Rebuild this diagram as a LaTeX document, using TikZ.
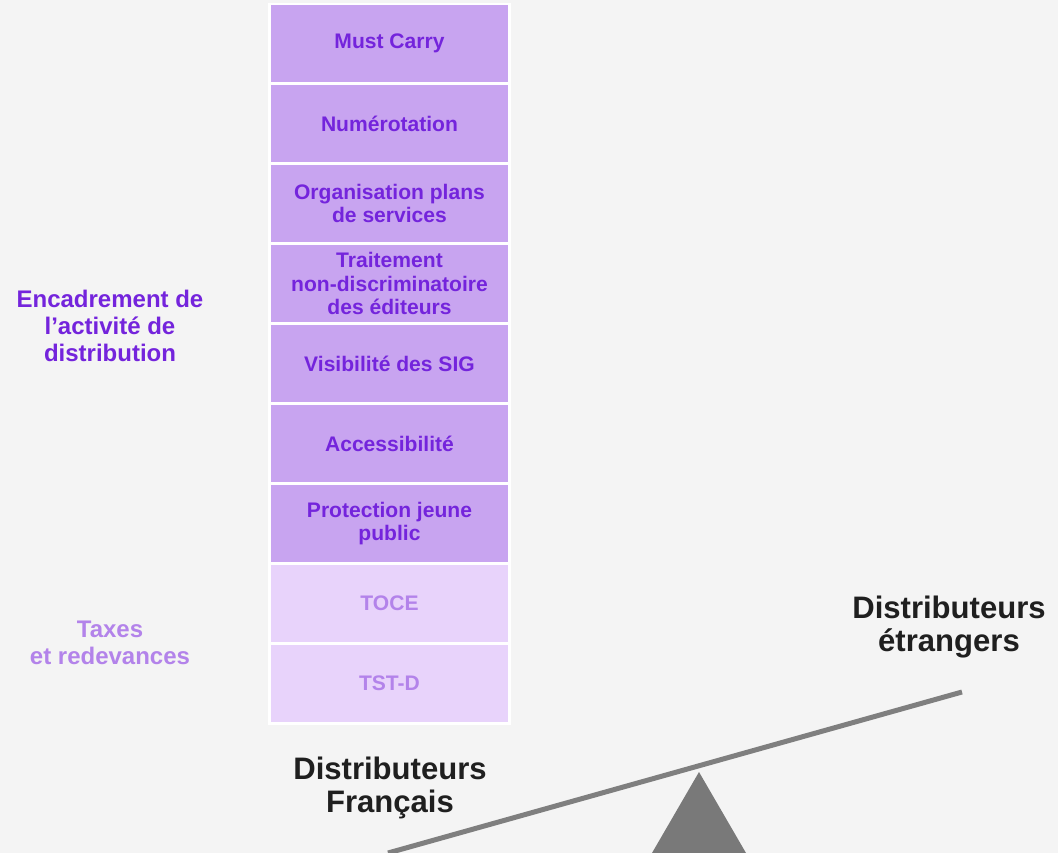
\documentclass[tikz,border=0pt]{standalone}
\usepackage{fontspec}
\setmainfont{Liberation Sans}
\usetikzlibrary{positioning}

\definecolor{bgGray}{HTML}{F4F4F4}
\definecolor{boxDark}{HTML}{C8A4F0}
\definecolor{txtDark}{HTML}{7424DC}
\definecolor{boxPale}{HTML}{E8D3FB}
\definecolor{txtPale}{HTML}{B383EA}
\definecolor{plankGray}{HTML}{7F7F7F}

\begin{document}
\begin{tikzpicture}[x=0.75pt,y=-0.75pt]
	\tikzset{box/.style = {shape=rectangle, fill=boxDark, text=txtDark,
			minimum width=177.75pt, minimum height=57.75pt, inner sep=0pt,
			outer sep=0pt, align=center,
			font=\fontsize{15.8}{17.3}\selectfont\bfseries}}
	\tikzset{boxPale/.style = {box, fill=boxPale, text=txtPale}}
	\tikzset{sideLabel/.style = {align=center, inner sep=0pt,
			font=\fontsize{18}{20}\selectfont\bfseries}}
	\tikzset{bigLabel/.style = {align=center, inner sep=0pt, text=black!88,
			font=\fontsize{23.3}{25}\selectfont\bfseries}}

	% page
	\useasboundingbox[fill=bgGray] (0,0) rectangle (1058,853);
	\fill[white] (268,3) rectangle (511,725);

	% boxes
	\node[box] (mc) at (389.5,43.5) {Must Carry};
	\node[box, below=2.25pt of mc] (num) {Numérotation};
	\node[box, below=2.25pt of num] (org) {Organisation plans\\de services};
	\node[box, below=2.25pt of org] (trt) {Traitement\\non-discriminatoire\\des éditeurs};
	\node[box, below=2.25pt of trt] (vis) {Visibilité des SIG};
	\node[box, below=2.25pt of vis] (acc) {Accessibilité};
	\node[box, below=2.25pt of acc] (pjp) {Protection jeune\\public};
	\node[boxPale, below=2.25pt of pjp] (toce) {TOCE};
	\node[boxPale, below=2.25pt of toce] (tstd) {TST-D};

	% labels
	\node[sideLabel, text=txtDark] (encad) at (110,326) {Encadrement de\\l’activité de\\distribution};
	\node[sideLabel, text=txtPale] (taxes) at (110,643) {Taxes\\et redevances};
	\node[bigLabel] (fr) at (390,788) {Distributeurs\\Français};
	\node[bigLabel] (etr) at (949,627) {Distributeurs\\étrangers};

	% seesaw
	\coordinate (plankL) at (388,853);
	\coordinate (plankR) at (962,692);
	\draw[plankGray, line width=3.75pt] (plankL) -- (plankR);
	\fill[plankGray!95!black] (699,772) -- (746,853) -- (652,853) -- cycle;

\end{tikzpicture}
\end{document}
